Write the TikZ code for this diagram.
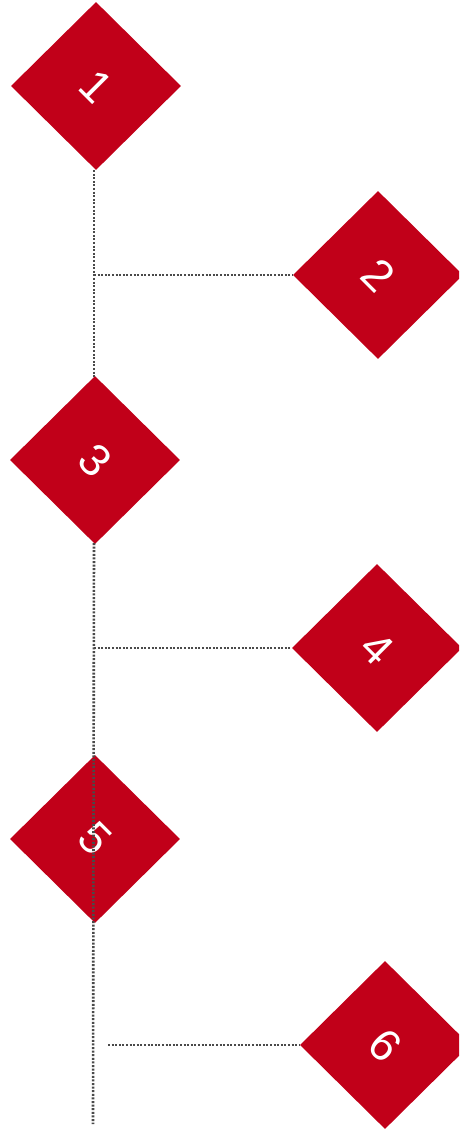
\documentclass[tikz,border=0pt]{standalone}
\usepackage{fontspec}
\setmainfont{Liberation Sans}
\usetikzlibrary{shapes.geometric}
\definecolor{dred}{HTML}{C10019}
\definecolor{dotgray}{HTML}{4A4A4A}
\begin{document}
\begin{tikzpicture}[x=1pt,y=-1pt,
  dia/.style={diamond,aspect=1,fill=dred,draw=none,minimum width=170pt,minimum height=168pt,inner sep=0pt,
    text=white,font=\fontsize{45}{45}\selectfont},
  link/.style={draw=dotgray,line width=2.6pt,dash pattern=on 2pt off 1.6pt}]
\useasboundingbox (0,0) rectangle (459,1131);
\clip (0,0) rectangle (459,1131);
\node[dia] (d1) at (96,86) {\rotatebox{-45}{1}};
\node[dia] (d2) at (378,275) {\rotatebox{-45}{2}};
\node[dia] (d3) at (95,460) {\rotatebox{-45}{3}};
\node[dia] (d4) at (377,648) {\rotatebox{-45}{4}};
\node[dia] (d5) at (95,839) {\rotatebox{-45}{5}};
\node[dia] (d6) at (385,1045) {\rotatebox{-45}{6}};
\coordinate (t1) at (94,170);
\coordinate (t3) at (94,377);
\coordinate (b2) at (94,275);
\coordinate (s3) at (94,543);
\coordinate (b4) at (94,648);
\coordinate (b6) at (108,1045);
\coordinate (bend) at (93,1124);
\draw[link] (t1) -- (t3);
\draw[link] (b2) -- (d2.west);
\draw[link] (s3) -- (bend);
\draw[link] (b4) -- (d4.west);
\draw[link] (b6) -- (d6.west);
\end{tikzpicture}
\end{document}
